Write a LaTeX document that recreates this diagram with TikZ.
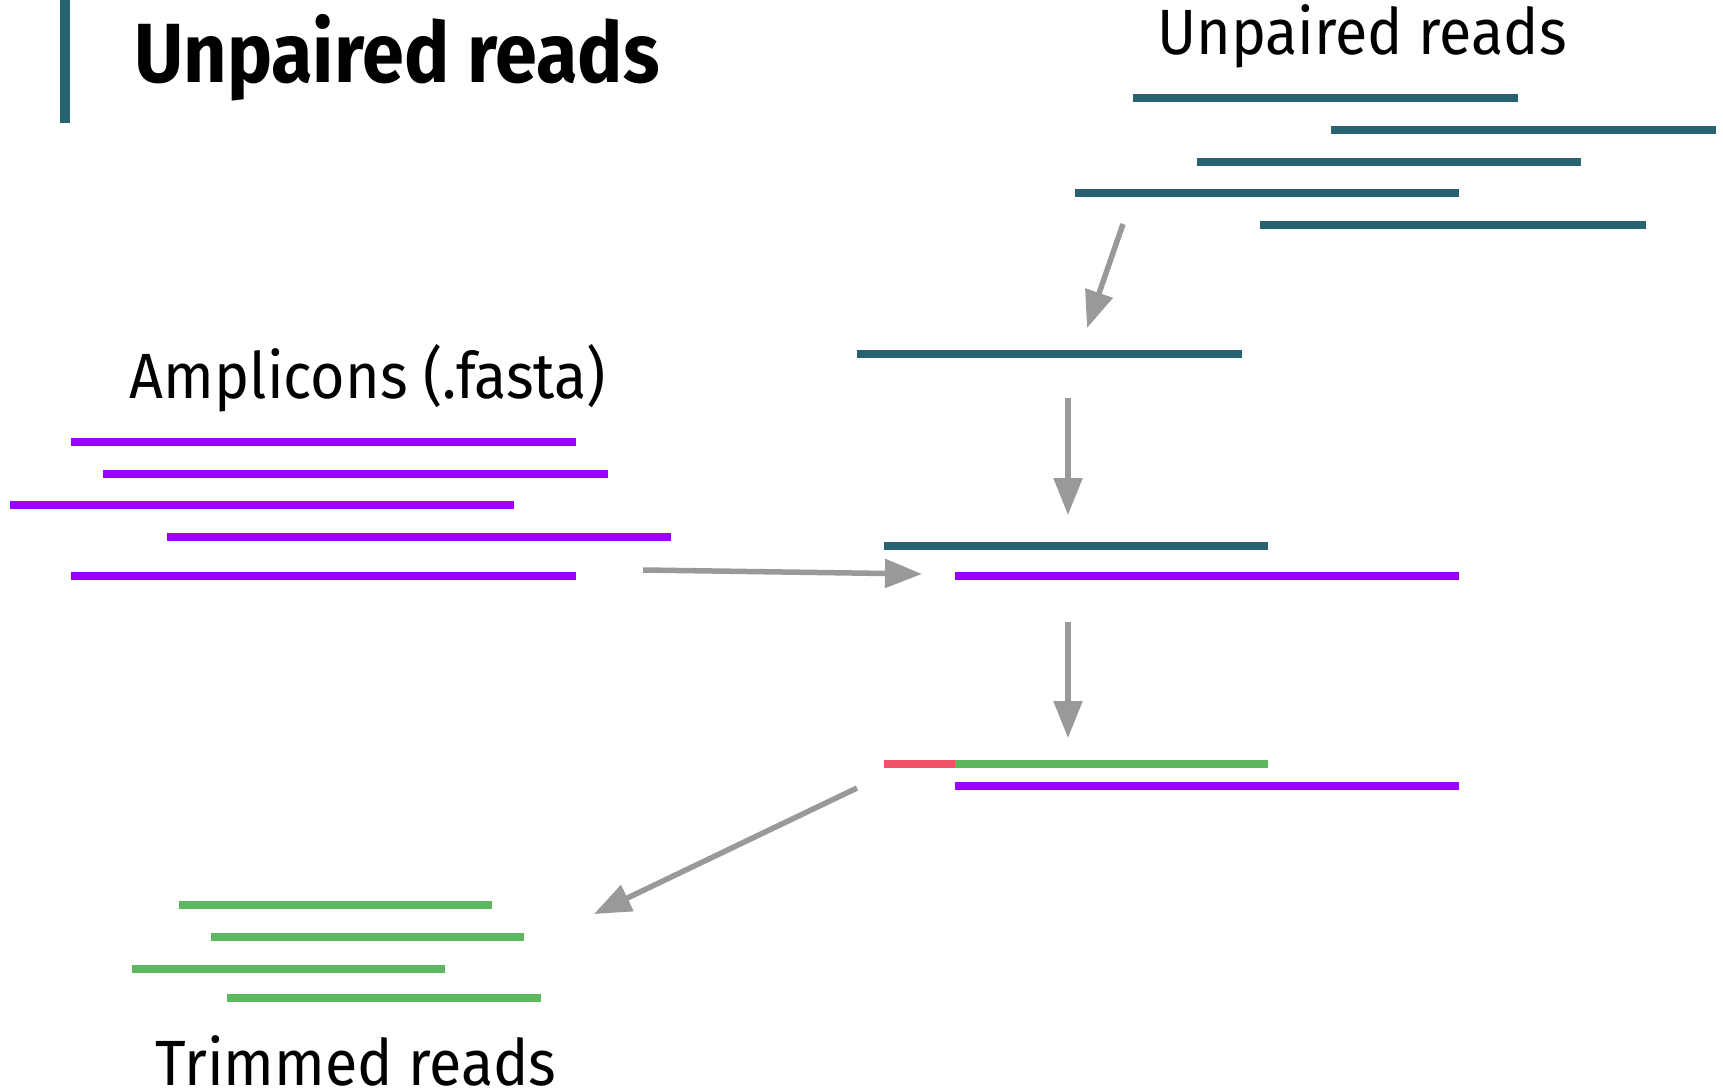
\documentclass[tikz,border=0pt]{standalone}
\usepackage{fontspec}
\setmainfont{Fira Sans}[FakeStretch=0.925]
\newfontfamily\titlefont{Fira Sans}[FakeStretch=0.90,UprightFont=* Bold]
\usetikzlibrary{arrows.meta}
\definecolor{readteal}{RGB}{38,98,112}
\definecolor{amppurple}{RGB}{153,0,255}
\definecolor{keepgreen}{RGB}{92,184,92}
\definecolor{cutred}{RGB}{240,84,106}
\definecolor{flowgray}{RGB}{153,153,153}
\tikzset{
  read/.style={line width=7.5pt},
  tealread/.style={read, readteal},
  ampread/.style={read, amppurple},
  trimread/.style={read, keepgreen},
  primer/.style={read, cutred},
  flow/.style={line width=5.5pt, flowgray, -{Triangle[length=37pt,width=28pt]}},
  label/.style={font=\fontsize{64}{70}\selectfont, inner sep=0pt},
}
\begin{document}
\begin{tikzpicture}[x=1pt,y=-1pt]
\useasboundingbox (0,0) rectangle (1723,1089);
\fill[white] (0,0) rectangle (1723,1089);

% heading with its side bar
\fill[readteal] (60,0) rectangle (70,123);
\node[inner sep=0pt, anchor=base west, font=\titlefont\fontsize{84}{90}\selectfont] (title) at (134,83) {Unpaired reads};

% raw unpaired reads
\node[label, anchor=base] (rawlabel) at (1362,55) {Unpaired reads};
\draw[tealread] (1133,98) -- (1518,98);
\draw[tealread] (1331,130) -- (1716,130);
\draw[tealread] (1197,162) -- (1581,162);
\draw[tealread] (1075,193) -- (1459,193);
\draw[tealread] (1260,225) -- (1646,225);

% one selected read
\draw[tealread] (857,354) -- (1242,354);

% amplicon sequences
\node[label, anchor=base] (amplabel) at (368,398) {Amplicons (.fasta)};
\draw[ampread] (71,442) -- (576,442);
\draw[ampread] (103,474) -- (608,474);
\draw[ampread] (10,505) -- (514,505);
\draw[ampread] (167,537) -- (671,537);
\draw[ampread] (71,576) -- (576,576);

% read aligned to amplicon
\draw[tealread] (884,546) -- (1268,546);
\draw[ampread] (955,576) -- (1459,576);

% primer part marked for removal
\draw[primer] (884,764) -- (955,764);
\draw[trimread] (955,764) -- (1268,764);
\draw[ampread] (955,786) -- (1459,786);

% trimmed output reads
\draw[trimread] (179,905) -- (492,905);
\draw[trimread] (211,937) -- (524,937);
\draw[trimread] (132,969) -- (445,969);
\draw[trimread] (227,998) -- (541,998);
\node[label, anchor=base] (trimlabel) at (356,1085) {Trimmed reads};

% flow arrows
\coordinate (a1s) at (1123,224); \coordinate (a1e) at (1087,328);
\coordinate (a2s) at (1068,398); \coordinate (a2e) at (1068,515);
\coordinate (a3s) at (643,570);  \coordinate (a3e) at (922,574);
\coordinate (a4s) at (1068,622); \coordinate (a4e) at (1068,738);
\coordinate (a5s) at (857,788);  \coordinate (a5e) at (594,914);
\draw[flow] (a1s) -- (a1e);
\draw[flow] (a2s) -- (a2e);
\draw[flow] (a3s) -- (a3e);
\draw[flow] (a4s) -- (a4e);
\draw[flow] (a5s) -- (a5e);
\end{tikzpicture}
\end{document}
